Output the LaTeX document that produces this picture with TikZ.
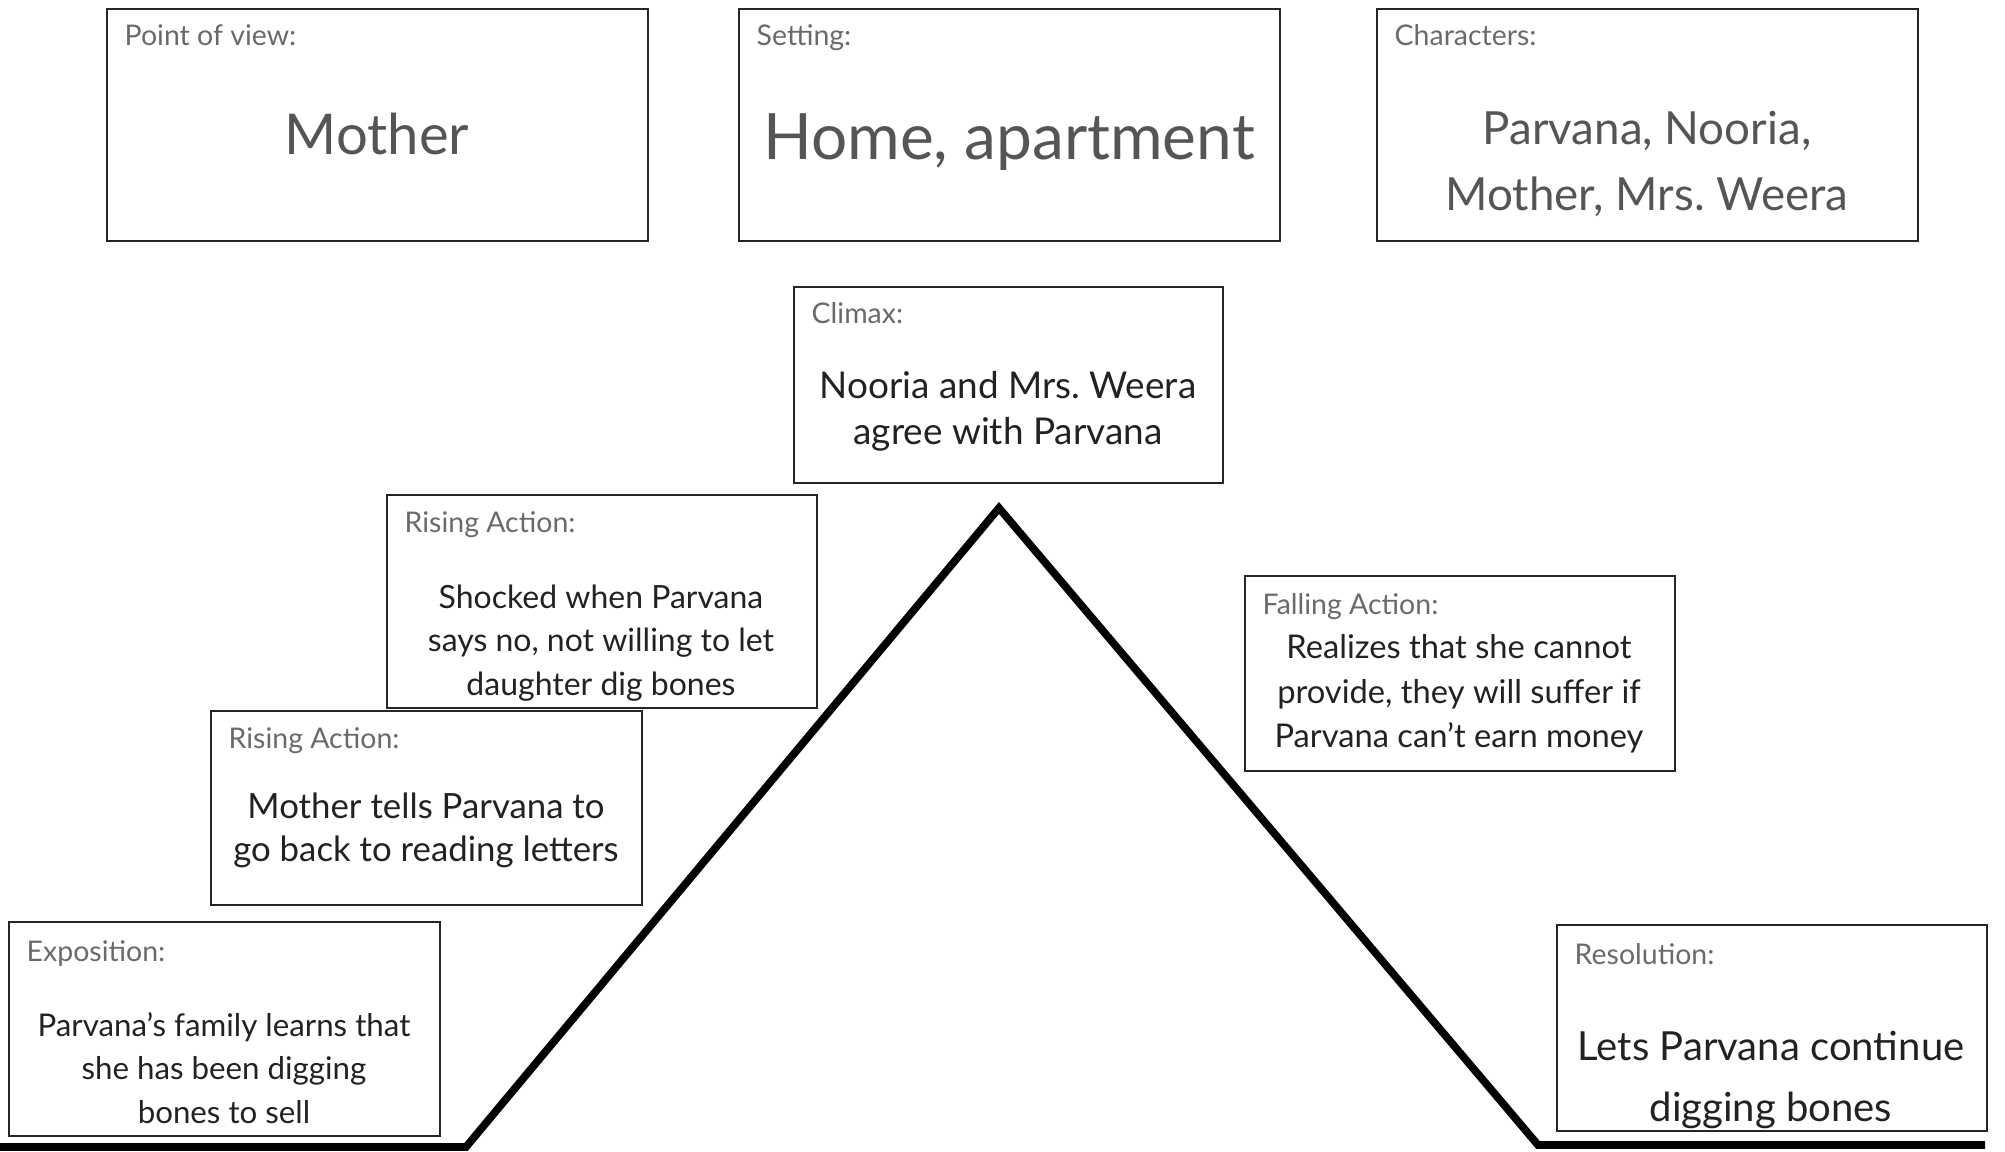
\documentclass[tikz,border=0pt]{standalone}
\usepackage{fontspec}
\setmainfont{Lato}
\definecolor{tagGray}{HTML}{6A6A6A}
\definecolor{bigGray}{HTML}{555555}
\definecolor{textDark}{HTML}{222222}
\begin{document}
\begin{tikzpicture}[
	box/.style={rectangle, draw=black!85, line width=0.6pt, anchor=north west, inner sep=0pt},
	tag/.style={anchor=base west, inner sep=0pt, text=tagGray, font=\fontsize{8.1}{9.7}\selectfont},
	body/.style={align=center, inner sep=0pt, text=textDark, font=\fontsize{9.1}{12.3}\selectfont},
	big/.style={align=center, inner sep=0pt, text=bigGray}
	]
	\useasboundingbox (0,0) rectangle (20.05,11.52);
	% top row
	\node[box, minimum width=5.41cm, minimum height=2.32cm] (pov) at (1.06,11.44) {};
	\node[tag] (povtag) at ([xshift=0.18cm, yshift=-0.38cm]pov.north west) {Point of view:};
	\node[big, font=\fontsize{16}{19}\selectfont] (povtext) at (3.77,10.18) {Mother};
	\node[box, minimum width=5.41cm, minimum height=2.32cm] (setting) at (7.38,11.44) {};
	\node[tag] (settingtag) at ([xshift=0.18cm, yshift=-0.38cm]setting.north west) {Setting:};
	\node[big, font=\fontsize{18.2}{21}\selectfont] (settingtext) at (10.09,10.10) {Home, apartment};
	\node[box, minimum width=5.41cm, minimum height=2.32cm] (chars) at (13.76,11.44) {};
	\node[tag] (charstag) at ([xshift=0.18cm, yshift=-0.38cm]chars.north west) {Characters:};
	\node[big, font=\fontsize{13}{18.8}\selectfont] (charstext) at (16.47,9.88) {Parvana, Nooria,\\Mother, Mrs.\ Weera};
	% plot boxes
	\node[box, minimum width=4.29cm, minimum height=1.96cm] (climax) at (7.93,8.66) {};
	\node[tag] (climaxtag) at ([xshift=0.18cm, yshift=-0.38cm]climax.north west) {Climax:};
	\node[body, font=\fontsize{10.5}{13}\selectfont] (climaxtext) at (10.08,7.41) {Nooria and Mrs.\ Weera\\agree with Parvana};
	\node[box, minimum width=4.30cm, minimum height=2.13cm] (rising2) at (3.86,6.58) {};
	\node[tag] (rising2tag) at ([xshift=0.18cm, yshift=-0.39cm]rising2.north west) {Rising Action:};
	\node[body] (rising2text) at (6.01,5.09) {Shocked when Parvana\\says no, not willing to let\\daughter dig bones};
	\node[box, minimum width=4.31cm, minimum height=1.94cm] (rising1) at (2.10,4.42) {};
	\node[tag] (rising1tag) at ([xshift=0.18cm, yshift=-0.39cm]rising1.north west) {Rising Action:};
	\node[body, font=\fontsize{9.9}{12.3}\selectfont] (rising1text) at (4.26,3.22) {Mother tells Parvana to\\go back to reading letters};
	\node[box, minimum width=4.31cm, minimum height=2.14cm] (expo) at (0.08,2.31) {};
	\node[tag] (expotag) at ([xshift=0.18cm, yshift=-0.41cm]expo.north west) {Exposition:};
	\node[body, font=\fontsize{8.9}{12.3}\selectfont] (expotext) at (2.24,0.84) {Parvana’s family learns that\\she has been digging\\bones to sell};
	\node[box, minimum width=4.30cm, minimum height=1.95cm] (falling) at (12.44,5.77) {};
	\node[tag] (fallingtag) at ([xshift=0.18cm, yshift=-0.40cm]falling.north west) {Falling Action:};
	\node[body, font=\fontsize{9.3}{12.7}\selectfont] (fallingtext) at (14.59,4.58) {Realizes that she cannot\\provide, they will suffer if\\Parvana can’t earn money};
	\node[box, minimum width=4.30cm, minimum height=2.06cm] (resol) at (15.56,2.28) {};
	\node[tag] (resoltag) at ([xshift=0.18cm, yshift=-0.41cm]resol.north west) {Resolution:};
	\node[body, font=\fontsize{11.4}{17.4}\selectfont] (resoltext) at (17.71,0.72) {Lets Parvana continue\\digging bones};
	% plot line
	\coordinate (baseL) at (0,0.05);
	\coordinate (footL) at (4.66,0.05);
	\coordinate (peak) at (9.99,6.44);
	\coordinate (footR) at (15.38,0.07);
	\coordinate (baseR) at (19.85,0.07);
	\draw[line width=2.2pt, line join=miter] (baseL) -- (footL) -- (peak) -- (footR) -- (baseR);
\end{tikzpicture}
\end{document}
